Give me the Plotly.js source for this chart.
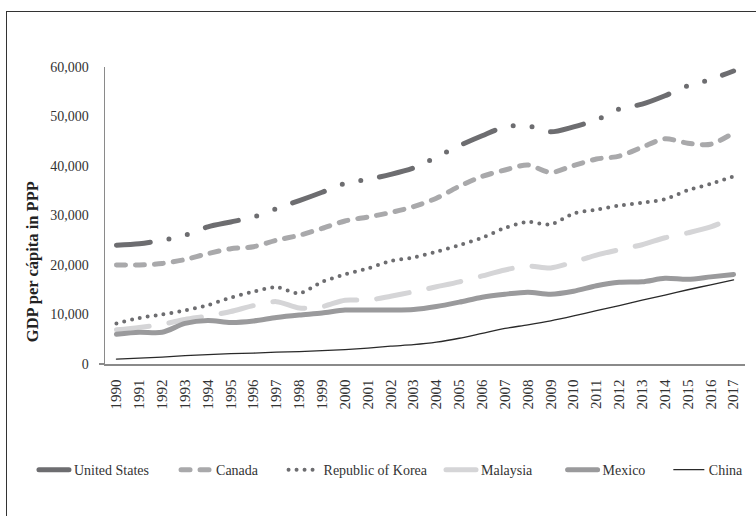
<!DOCTYPE html>
<html>
<head>
<meta charset="utf-8">
<script src="https://cdn.plot.ly/plotly-3.0.1.min.js"></script>
<style>
  html, body { margin: 0; padding: 0; background: #fff; }
  #wrap { position: relative; width: 756px; height: 516px; overflow: hidden; }
  #chart { position: absolute; left: 0; top: 0; width: 756px; height: 516px; }
  #frame { position: absolute; left: 6px; top: 11px; width: 800px; height: 600px;
           border: 1.3px solid #333; pointer-events: none; }
  .scatterlayer .js-line, .infolayer .js-line { stroke-linecap: round; }
</style>
</head>
<body>
<div id="wrap">
  <div id="chart"></div>
  <div id="frame"></div>
</div>
<script>
const years = ["1990","1991","1992","1993","1994","1995","1996","1997","1998","1999",
  "2000","2001","2002","2003","2004","2005","2006","2007","2008","2009",
  "2010","2011","2012","2013","2014","2015","2016","2017"];

const unitedStates = [24000,24300,25000,26000,27700,28700,29700,31400,33000,34700,
  36500,37300,38300,39600,41800,44100,46100,47900,48100,46900,
  47900,49300,51500,52500,54200,56200,57500,59200];
const canada = [20000,20000,20300,21100,22300,23300,23700,25000,26000,27400,
  28900,29700,30600,31800,33500,35900,37900,39200,40200,38700,
  40100,41400,42000,43800,45500,44600,44400,46700];
const korea = [8200,9300,10000,10800,11900,13400,14600,15500,14300,16600,
  18100,19300,20800,21500,22700,24000,25500,27500,28700,28200,
  30400,31200,32000,32600,33300,35100,36400,37900];
const malaysia = [6900,7400,8000,9000,9700,10600,11800,12600,11300,11600,
  12900,12900,13700,14600,15600,16600,17800,19000,19800,19400,
  20600,22000,23100,24100,25500,26500,27700,29600];
const mexico = [6000,6400,6400,8200,8800,8400,8700,9400,9900,10300,
  10900,10900,10900,11000,11600,12500,13500,14100,14500,14100,
  14700,15800,16500,16600,17300,17100,17600,18100];
const china = [1000,1200,1400,1700,1900,2100,2200,2400,2500,2700,
  2900,3200,3600,3900,4400,5200,6200,7200,7900,8700,
  9700,10800,11800,12900,13900,15000,16000,17000];

const seriesNames = ["United States","Canada","Republic of Korea","Malaysia","Mexico","China"];
const yTicks = [0,10000,20000,30000,40000,50000,60000];

const FONT = "'Liberation Serif', 'DejaVu Serif', serif";

function tr(name, y, color, width, dash, leg) {
  return {
    type: "scatter", mode: "lines", name: name, x: years, y: y, legend: leg,
    line: { color: color, width: width, dash: dash, shape: "spline", smoothing: 0.8 },
    hoverinfo: "skip"
  };
}

const data = [
  tr(seriesNames[0], unitedStates, "#6d6d70", 5, "34px,19px,0px,19px,0px,19px", "legend"),
  tr(seriesNames[1], canada, "#a9a9ab", 5, "9px,10px", "legend2"),
  tr(seriesNames[2], korea, "#6d6d70", 4, "0px,8px", "legend3"),
  tr(seriesNames[3], malaysia, "#d5d5d7", 5, "33px,20px", "legend4"),
  tr(seriesNames[4], mexico, "#9a9a9c", 5, "solid", "legend5"),
  tr(seriesNames[5], china, "#2a2a2a", 1.3, "solid", "legend6")
];

// legend placement (paper x of each entry block)
const legendX = [-0.111, 0.111, 0.279, 0.525, 0.715, 0.881];
function leg(x) {
  return {
    orientation: "h", x: x, xanchor: "left", y: -0.357, yanchor: "middle",
    font: { family: FONT, size: 14, color: "#333" },
    bgcolor: "rgba(0,0,0,0)", borderwidth: 0
  };
}

const layout = {
  width: 756, height: 516,
  margin: { l: 105, r: 7, t: 67, b: 152 },
  paper_bgcolor: "#fff", plot_bgcolor: "#fff",
  font: { family: FONT, size: 13, color: "#333" },
  showlegend: true,
  legend: leg(legendX[0]), legend2: leg(legendX[1]), legend3: leg(legendX[2]),
  legend4: leg(legendX[3]), legend5: leg(legendX[4]), legend6: leg(legendX[5]),
  xaxis: {
    type: "category", range: [-0.5, 27.5],
    showline: true, linecolor: "#8a8a8a", linewidth: 1.5,
    showgrid: false, zeroline: false, ticks: "",
    tickangle: -90, tickfont: { family: FONT, size: 15, color: "#333" },
    ticklabelstandoff: 8
  },
  yaxis: {
    range: [0, 60000], tickvals: yTicks, tickformat: ",d",
    showline: true, linecolor: "#8a8a8a", linewidth: 1.5,
    showgrid: false, zeroline: false, ticks: "",
    tickfont: { family: FONT, size: 14, color: "#333" },
    ticklabelstandoff: 12
  },
  yaxis2: {
    overlaying: "y", matches: "y", side: "left", tickvals: [0],
    ticks: "outside", ticklen: 5, tickwidth: 1.5, tickcolor: "#8a8a8a",
    showticklabels: false, showline: false, showgrid: false, zeroline: false
  },
  annotations: [{
    text: "<b>GDP per cápita in PPP</b>", textangle: -90,
    xref: "paper", yref: "paper", x: -0.114, y: 0.343,
    xanchor: "center", yanchor: "middle", showarrow: false,
    font: { family: FONT, size: 16.5, color: "#222" }
  }]
};

data.push({ type: "scatter", x: [years[0]], y: [null], yaxis: "y2", showlegend: false, hoverinfo: "skip" });

Plotly.newPlot("chart", data, layout, { staticPlot: true, displayModeBar: false });
</script>
</body>
</html>
